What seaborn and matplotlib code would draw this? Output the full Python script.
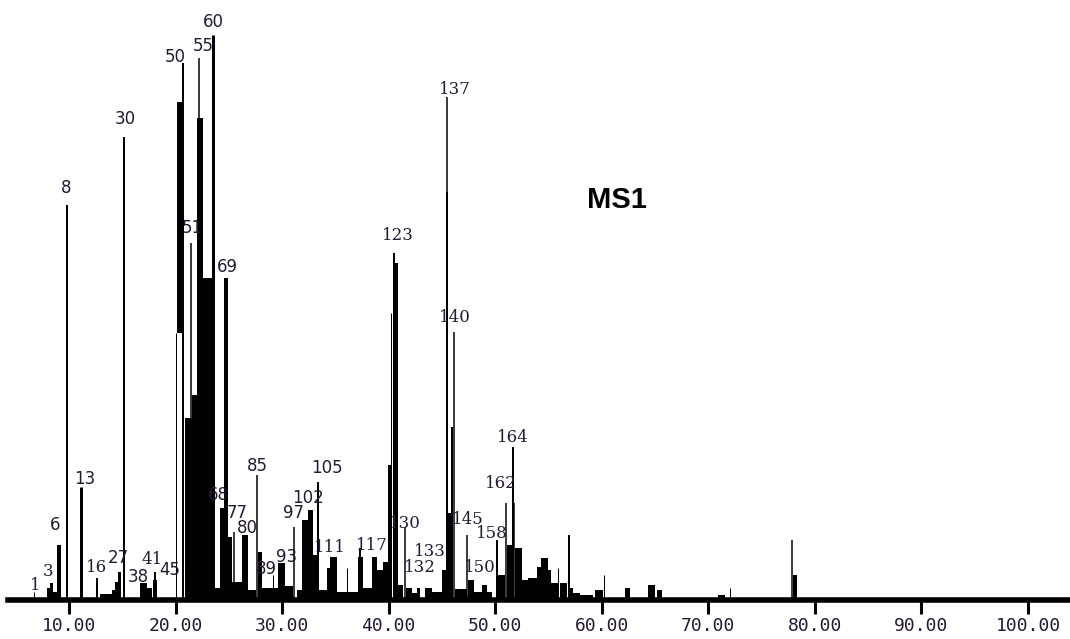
import matplotlib
matplotlib.use("Agg")
import matplotlib.pyplot as plt
import seaborn as sns

# Total ion chromatogram, retention time (min) vs. abundance (arbitrary units)

# Sharp peaks drawn as sticks: apex time, apex height, line width (px)
stick_time = [6.72, 9.06, 9.81, 11.17, 12.63, 15.16, 18.07, 20.04, 20.70, 21.45,
              22.25, 23.51, 24.73, 25.48, 27.64, 29.14, 31.11, 33.37, 36.09, 37.31,
              40.22, 40.50, 41.53, 45.47, 46.13, 47.35, 50.17, 51.01, 51.67, 51.76,
              55.89, 56.92, 60.21, 72.03, 77.85]
stick_height = [8, 55, 395, 113, 22, 463, 28, 267, 537, 357,
                542, 565, 322, 68, 125, 25, 73, 118, 32, 52,
                287, 347, 73, 503, 268, 65, 60, 97, 153, 97,
                32, 65, 25, 12, 60]
stick_width = [1, 4, 2, 3, 2, 2, 2, 1, 2, 1.5,
               1.5, 3, 4, 1.5, 1.5, 1, 1.5, 2, 1, 2,
               1, 2, 1.5, 1.5, 1.5, 1.5, 2, 1.5, 2, 1.5,
               1, 2, 1, 1, 1.5]

# Broad / co-eluting regions drawn as filled blocks: start, end, bottom, top
block_start = [7.94, 8.22, 8.50, 12.91, 14.04, 14.32, 14.60, 16.66, 17.32, 17.88,
               20.14, 20.89, 21.54, 22.01, 22.58, 23.70, 24.17, 24.83, 25.30, 26.23,
               26.80, 27.74, 28.11, 29.61, 30.27, 31.40, 31.87, 32.43, 32.90, 33.37,
               34.21, 34.49, 35.15, 36.09, 37.12, 37.59, 38.43, 38.90, 39.47, 39.94,
               40.60, 40.87, 41.63, 42.19, 42.66, 43.41, 44.07, 45.00, 45.38, 45.57,
               45.85, 46.23, 47.44, 48.00, 48.76, 49.23, 50.26, 51.10, 51.85, 52.51,
               53.07, 53.92, 54.29, 54.95, 55.23, 56.08, 57.01, 57.30, 57.95, 59.36,
               62.18, 64.34, 65.18, 70.90, 77.94]
block_end = [8.22, 8.50, 8.97, 14.04, 14.32, 14.60, 14.88, 17.32, 17.79, 18.26,
             20.60, 21.54, 22.01, 22.58, 23.42, 24.17, 24.73, 25.30, 26.23, 26.80,
             27.55, 28.11, 29.61, 30.27, 31.02, 31.87, 32.43, 32.90, 33.28, 34.21,
             34.49, 35.15, 36.09, 37.12, 37.59, 38.43, 38.90, 39.47, 39.94, 40.22,
             40.87, 41.34, 42.19, 42.66, 42.94, 44.07, 45.00, 45.38, 45.61, 45.85,
             46.04, 47.35, 48.00, 48.76, 49.23, 49.70, 50.92, 51.57, 52.51, 53.07,
             53.92, 54.29, 54.95, 55.23, 55.89, 56.73, 57.30, 57.95, 59.17, 60.11,
             62.65, 65.00, 65.65, 71.56, 78.32]
block_bottom = [0, 0, 0, 0, 0, 0, 0, 0, 0, 0,
                267, 0, 0, 0, 0, 0, 0, 0, 0, 0,
                0, 0, 0, 0, 0, 0, 0, 0, 0, 0,
                0, 0, 0, 0, 0, 0, 0, 0, 0, 0,
                0, 0, 0, 0, 0, 0, 0, 0, 0, 0,
                0, 0, 0, 0, 0, 0, 0, 0, 0, 0,
                0, 0, 0, 0, 0, 0, 0, 0, 0, 0,
                0, 0, 0, 0, 0]
block_top = [12, 17, 8, 6, 10, 18, 28, 17, 12, 20,
             498, 182, 205, 482, 322, 12, 92, 63, 18, 65,
             10, 48, 12, 37, 14, 10, 80, 90, 45, 10,
             32, 43, 8, 8, 43, 12, 43, 30, 38, 135,
             337, 15, 12, 7, 12, 12, 8, 30, 408, 87,
             173, 11, 20, 8, 15, 8, 25, 55, 52, 20,
             22, 33, 42, 30, 17, 17, 12, 7, 5, 10,
             12, 15, 10, 5, 25]

# Peak numbers and where they are printed (time, height)
peak_label = ["1", "3", "6", "8", "13", "16", "27", "30", "38", "41",
              "45", "50", "55", "60", "51", "69", "68", "77", "80", "85",
              "89", "93", "97", "102", "105", "111", "117", "123", "130", "132",
              "133", "137", "140", "145", "150", "158", "162", "164"]
label_time = [6.81, 8.03, 8.69, 9.72, 11.50, 12.63, 14.60, 15.26, 16.48, 17.80,
              19.45, 19.95, 22.58, 23.51, 21.54, 24.83, 23.98, 25.77, 26.70, 27.64,
              28.49, 30.46, 31.11, 32.43, 34.21, 34.49, 38.43, 40.87, 41.53, 42.94,
              43.88, 46.22, 46.22, 47.44, 48.57, 49.70, 50.54, 51.67]
label_height = [15, 28, 75, 412, 121, 32, 42, 481, 23, 40,
                30, 543, 554, 578, 372, 333, 105, 87, 72, 134,
                31, 43, 87, 102, 132, 53, 55, 365, 76, 32,
                48, 510, 283, 80, 33, 67, 117, 163]
serif_labels = {"1", "3", "16", "41", "111", "117", "123", "130", "132", "133",
                "137", "140", "145", "150", "158", "162", "164"}

tick_values = [10, 20, 30, 40, 50, 60, 70, 80, 90, 100]
tick_labels = ["10.00", "20.00", "30.00", "40.00", "50.00", "60.00",
               "70.00", "80.00", "90.00", "100.00"]

sns.set_theme(style="white")
plt.rcParams["font.family"] = ["DejaVu Sans"]

fig = plt.figure(figsize=(10.70, 6.39), dpi=100)
ax = fig.add_axes([8 / 1070, 39 / 639, 1062 / 1070, 600 / 639])

px = 0.72  # one pixel in points at 100 dpi

ax.bar(x=block_start,
       height=[t - b for b, t in zip(block_bottom, block_top)],
       width=[e - s for s, e in zip(block_start, block_end)],
       bottom=block_bottom,
       align="edge", color="black", linewidth=0)
ax.vlines(stick_time, 0, stick_height, colors="black",
          linewidths=[w * px for w in stick_width])

text_color = "#241a33"
for lab, t, h in zip(peak_label, label_time, label_height):
    fam = "DejaVu Serif" if lab in serif_labels else "DejaVu Sans"
    ax.text(t, h, lab, ha="center", va="center", fontsize=12,
            family=fam, color=text_color)

ax.text(61.43, 400, "MS1", ha="center", va="center", fontsize=21,
        fontweight="bold", family="Liberation Sans", color="black")

ax.set_xlim(4.28, 103.94)
ax.set_ylim(0, 600)
ax.set_xticks(tick_values)
ax.set_xticklabels(tick_labels, family="DejaVu Sans Mono", fontsize=13,
                   color=text_color)
ax.set_yticks([])
ax.tick_params(axis="x", direction="out", length=10, width=2.2, color="black",
               pad=2.5, bottom=True)
sns.despine(ax=ax, left=True, top=True, right=True)
ax.spines["bottom"].set_linewidth(4)
ax.spines["bottom"].set_color("black")
ax.set_xlabel("")
ax.set_ylabel("")

fig.savefig("out.png", dpi=100, facecolor="white")
